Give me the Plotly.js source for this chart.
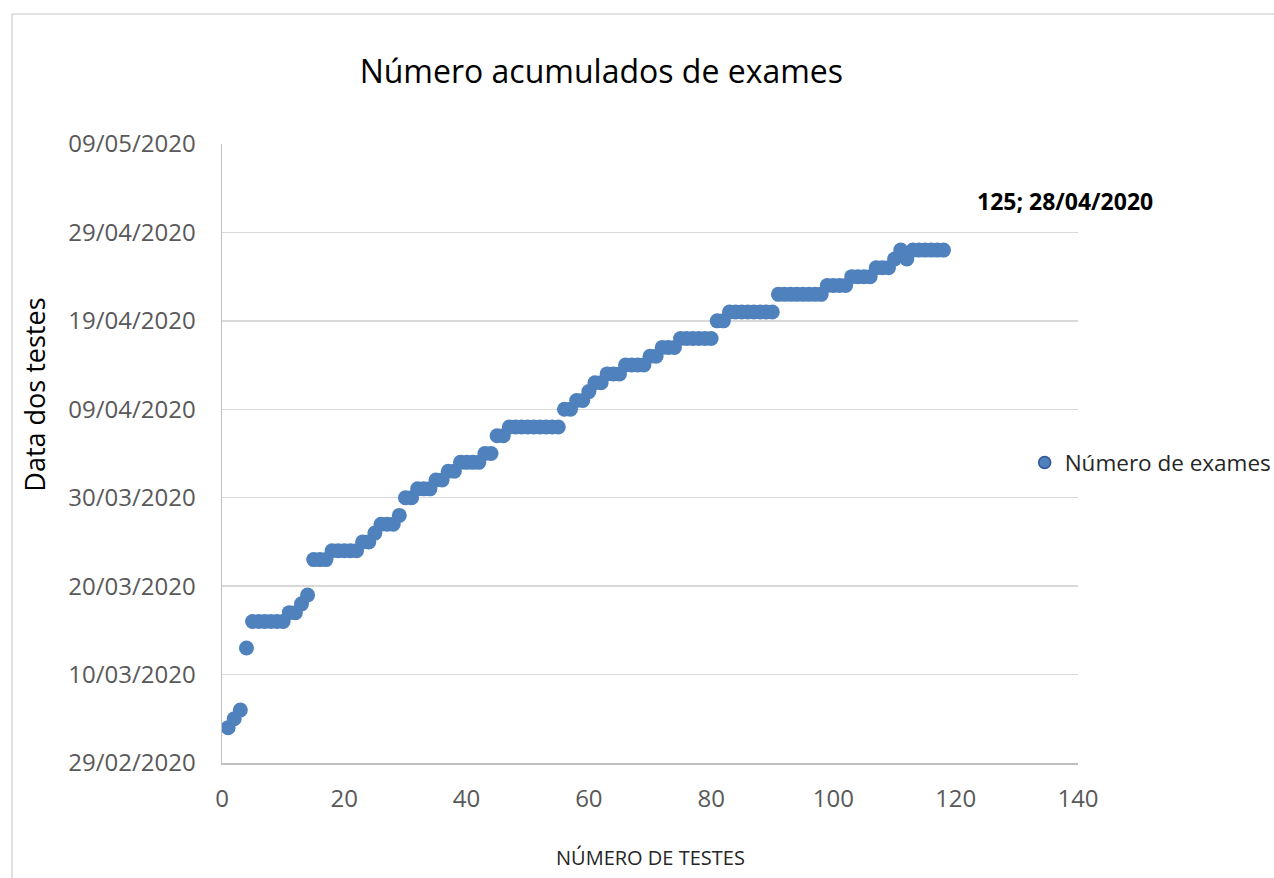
<!DOCTYPE html>
<html>
<head>
<meta charset="utf-8">
<script src="https://cdn.plot.ly/plotly-3.0.1.min.js"></script>
<style>html,body{margin:0;padding:0;background:#fff;}#chart{width:1274px;height:878px;}</style>
</head>
<body>
<div id="chart"></div>
<script>
const testNumbers = [1,2,3,4,5,6,7,8,9,10,11,12,13,14,15,16,17,18,19,20,21,22,23,24,25,26,27,28,29,30,
31,32,33,34,35,36,37,38,39,40,41,42,43,44,45,46,47,48,49,50,51,52,53,54,55,56,57,58,59,60,
61,62,63,64,65,66,67,68,69,70,71,72,73,74,75,76,77,78,79,80,81,82,83,84,85,86,87,88,89,90,
91,92,93,94,95,96,97,98,99,100,101,102,103,104,105,106,107,108,109,110,111,112,113,114,115,116,117,118];

const testDates = [
'2020-03-04','2020-03-05','2020-03-06','2020-03-13',
'2020-03-16','2020-03-16','2020-03-16','2020-03-16','2020-03-16','2020-03-16',
'2020-03-17','2020-03-17','2020-03-18','2020-03-19',
'2020-03-23','2020-03-23','2020-03-23',
'2020-03-24','2020-03-24','2020-03-24','2020-03-24','2020-03-24',
'2020-03-25','2020-03-25','2020-03-26',
'2020-03-27','2020-03-27','2020-03-27','2020-03-28',
'2020-03-30','2020-03-30',
'2020-03-31','2020-03-31','2020-03-31',
'2020-04-01','2020-04-01','2020-04-02','2020-04-02',
'2020-04-03','2020-04-03','2020-04-03','2020-04-03',
'2020-04-04','2020-04-04','2020-04-06','2020-04-06',
'2020-04-07','2020-04-07','2020-04-07','2020-04-07','2020-04-07','2020-04-07','2020-04-07','2020-04-07','2020-04-07',
'2020-04-09','2020-04-09','2020-04-10','2020-04-10','2020-04-11',
'2020-04-12','2020-04-12','2020-04-13','2020-04-13','2020-04-13',
'2020-04-14','2020-04-14','2020-04-14','2020-04-14',
'2020-04-15','2020-04-15','2020-04-16','2020-04-16','2020-04-16',
'2020-04-17','2020-04-17','2020-04-17','2020-04-17','2020-04-17','2020-04-17',
'2020-04-19','2020-04-19',
'2020-04-20','2020-04-20','2020-04-20','2020-04-20','2020-04-20','2020-04-20','2020-04-20','2020-04-20',
'2020-04-22','2020-04-22','2020-04-22','2020-04-22','2020-04-22','2020-04-22','2020-04-22','2020-04-22',
'2020-04-23','2020-04-23','2020-04-23','2020-04-23',
'2020-04-24','2020-04-24','2020-04-24','2020-04-24',
'2020-04-25','2020-04-25','2020-04-25',
'2020-04-26','2020-04-27','2020-04-26',
'2020-04-27','2020-04-27','2020-04-27','2020-04-27','2020-04-27','2020-04-27'];

const seriesName = 'Número de exames';
const chartTitle = 'Número acumulados de exames';
const xTitle = 'NÚMERO DE TESTES';
const yTitle = 'Data dos testes';
const labelText = '125; 28/04/2020';
const xTicks = [0,20,40,60,80,100,120,140];
const yRange = ['2020-02-29','2020-05-09'];

const font = '"Open Sans", sans-serif';

const traces = [
  {
    type: 'scatter', mode: 'markers', x: testNumbers, y: testDates,
    name: seriesName, showlegend: false,
    marker: {size: 15, color: '#4f81bd', line: {width: 0}}
  },
  {
    type: 'scatter', mode: 'markers', x: [null], y: [null],
    name: seriesName, showlegend: true,
    marker: {size: 12, color: '#4f81bd', line: {width: 1.5, color: '#2f5597'}}
  }
];

const layout = {
  width: 1274, height: 878,
  margin: {l: 222, r: 196, t: 144, b: 115, autoexpand: false},
  paper_bgcolor: '#fff', plot_bgcolor: '#fff',
  font: {family: font, color: '#595959'},
  title: {text: chartTitle, x: 0.472, xref: 'container', xanchor: 'center',
          y: 0.918, yref: 'container', yanchor: 'middle',
          font: {family: font, size: 32, color: '#000'}},
  xaxis: {
    range: [0, 140], tickvals: xTicks, ticktext: xTicks.map(String),
    showgrid: false, zeroline: false, showline: true, linecolor: '#bfbfbf', linewidth: 1.5,
    ticks: '', ticklabelstandoff: 14, tickfont: {size: 24, color: '#595959'}
  },
  yaxis: {
    type: 'date', range: yRange, tick0: '2020-02-29', dtick: 10*86400000,
    tickformat: '%d/%m/%Y', showgrid: true, gridcolor: '#d9d9d9', gridwidth: 1.5,
    zeroline: false, showline: true, linecolor: '#bfbfbf', linewidth: 1.5,
    ticks: '', ticklabelstandoff: 20, tickfont: {size: 24, color: '#595959'}
  },
  legend: {x: 0.9377, xanchor: 'left', y: 0.485, yanchor: 'middle',
           font: {size: 22.5, color: '#262626'}, bgcolor: 'rgba(0,0,0,0)'},
  annotations: [
    {text: labelText, xref: 'paper', yref: 'paper', x: 0.985, y: 0.908,
     xanchor: 'center', yanchor: 'middle', showarrow: false,
     font: {family: font, size: 23, color: '#000', weight: 'bold'}},
    {text: xTitle, xref: 'paper', yref: 'paper', x: 0.501, y: -0.152,
     xanchor: 'center', yanchor: 'middle', showarrow: false,
     font: {family: font, size: 20, color: '#262626'}},
    {text: yTitle, xref: 'paper', yref: 'paper', x: -0.22, y: 0.5945,
     xanchor: 'center', yanchor: 'middle', showarrow: false, textangle: -90,
     font: {family: font, size: 27, color: '#000'}}
  ],
  shapes: [
    {type: 'rect', xref: 'paper', yref: 'paper', x0: -0.2453, x1: 1.5, y0: -0.3, y1: 1.21,
     line: {color: '#d9d9d9', width: 1.5}, fillcolor: 'rgba(0,0,0,0)', layer: 'below'}
  ]
};

Plotly.newPlot('chart', traces, layout, {displayModeBar: false, staticPlot: true});
</script>
</body>
</html>
